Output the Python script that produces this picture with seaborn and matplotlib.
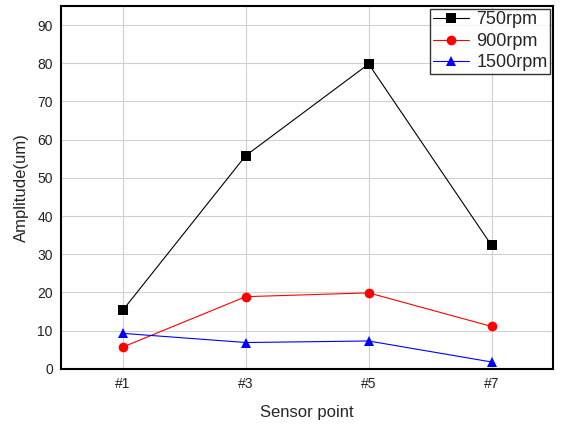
import matplotlib
matplotlib.use("Agg")
import matplotlib.pyplot as plt
import seaborn as sns
import pandas as pd

# Data
sensor_points = ["#1", "#3", "#5", "#7"]
amp_750 = [15.3, 55.8, 79.8, 32.3]
amp_900 = [5.7, 18.9, 19.9, 11.1]
amp_1500 = [9.3, 6.9, 7.3, 1.8]
speeds = ["750rpm", "900rpm", "1500rpm"]

df = pd.DataFrame({
    "Sensor point": sensor_points * 3,
    "pos": list(range(len(sensor_points))) * 3,
    "Amplitude(um)": amp_750 + amp_900 + amp_1500,
    "speed": [s for s in speeds for _ in sensor_points],
})

sns.set_style("white")
plt.rcParams["font.family"] = ["Liberation Sans", "DejaVu Sans"]

fig = plt.figure(figsize=(5.61, 4.24), dpi=100)
ax = fig.add_axes([0.109, 0.130, 0.877, 0.856])

palette = {"750rpm": "black", "900rpm": "red", "1500rpm": "blue"}
markers = {"750rpm": "s", "900rpm": "o", "1500rpm": "^"}
sns.lineplot(data=df, x="pos", y="Amplitude(um)", hue="speed", style="speed",
             palette=palette, markers=markers, dashes=False, linewidth=0.8,
             markersize=7, markeredgewidth=0, ax=ax)

ax.set_xlim(-0.5, 3.5)
ax.set_ylim(0, 95)
ax.set_xticks(range(len(sensor_points)))
ax.set_xticklabels(sensor_points)
ax.set_yticks(range(0, 100, 10))
ax.grid(True, color="#d0d0d0", linewidth=0.8)
ax.tick_params(labelsize=10, length=0, pad=6, labelcolor="#222222")
ax.set_xlabel("Sensor point", fontsize=12, labelpad=10)
ax.set_ylabel("Amplitude(um)", fontsize=12, labelpad=6)
for sp in ax.spines.values():
    sp.set_color("black")
    sp.set_linewidth(1.5)

leg = ax.legend(loc="upper right", fontsize=13, frameon=True, fancybox=False,
                borderaxespad=0.15, handlelength=2.0, borderpad=0.15,
                labelspacing=0.25, handletextpad=0.4)
leg.get_frame().set_edgecolor("black")
leg.get_frame().set_linewidth(1.0)

fig.savefig("out.png", dpi=100)
